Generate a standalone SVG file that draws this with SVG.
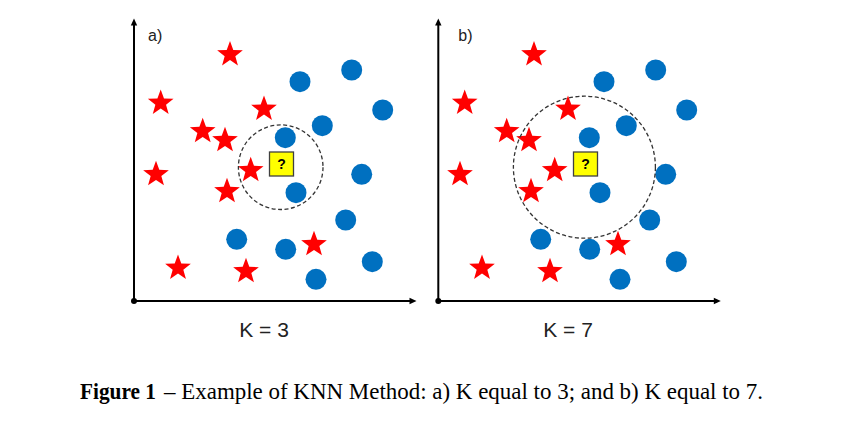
<svg xmlns="http://www.w3.org/2000/svg" xmlns:xlink="http://www.w3.org/1999/xlink" width="868" height="426" viewBox="0 0 868 426">
<style>
.axis{stroke:#000;stroke-width:2;fill:none}
.head{fill:#000}
.star{fill:#FF0000}
.dot{fill:#0070C0}
.q{fill:#FFFF00;stroke:#404040;stroke-width:1.3}
.qt{font-family:"Liberation Sans",Arial,sans-serif;font-weight:bold;font-size:14px;fill:#000;text-anchor:middle}
.ring{fill:none;stroke:#333;stroke-width:1.3;stroke-dasharray:4 2.5}
.lbl{font-family:"Liberation Sans",Arial,sans-serif;font-size:16px;fill:#222}
.k{font-family:"Liberation Sans",Arial,sans-serif;font-size:21px;fill:#222;text-anchor:middle}
.cap{font-family:"Liberation Serif","Times New Roman",serif;font-size:23px;fill:#000}
</style>
<defs>
<path id="star" d="M0,-13.5 L3.29,-4.53 L12.84,-4.17 L5.33,1.73 L7.94,10.92 L0,5.6 L-7.94,10.92 L-5.33,1.73 L-12.84,-4.17 L-3.29,-4.53 Z"/>
<g id="cloud">
<g class="star">
<use xlink:href="#star" x="230" y="54.5"/>
<use xlink:href="#star" x="160.7" y="103"/>
<use xlink:href="#star" x="264" y="109"/>
<use xlink:href="#star" x="202.7" y="131.3"/>
<use xlink:href="#star" x="225" y="140.3"/>
<use xlink:href="#star" x="156" y="174.3"/>
<use xlink:href="#star" x="250.7" y="170.3"/>
<use xlink:href="#star" x="227" y="191.3"/>
<use xlink:href="#star" x="314" y="244.3"/>
<use xlink:href="#star" x="178" y="268"/>
<use xlink:href="#star" x="246" y="271.3"/>
</g>
<g class="dot">
<circle cx="300" cy="81.7" r="10.5"/>
<circle cx="351.7" cy="70" r="10.5"/>
<circle cx="382.7" cy="110" r="10.5"/>
<circle cx="322.3" cy="125.7" r="10.5"/>
<circle cx="285.3" cy="137.7" r="10.5"/>
<circle cx="296" cy="192.7" r="10.5"/>
<circle cx="361.7" cy="174.3" r="10.5"/>
<circle cx="345.7" cy="220" r="10.5"/>
<circle cx="236.7" cy="239.3" r="10.5"/>
<circle cx="285.7" cy="249.3" r="10.5"/>
<circle cx="372.3" cy="261.7" r="10.5"/>
<circle cx="316" cy="279.3" r="10.5"/>
</g>
<rect class="q" x="269.5" y="152" width="24" height="24"/>
<text class="qt" x="281.5" y="169">?</text>
</g>
<g id="axes">
<line class="axis" x1="134" y1="301" x2="134" y2="24"/>
<line class="axis" x1="134" y1="301" x2="411" y2="301"/>
<polygon class="head" points="134,18.5 130.8,25.5 137.2,25.5"/>
<polygon class="head" points="416.5,301 409.5,297.8 409.5,304.2"/>
<circle class="head" cx="134" cy="301" r="3"/>
</g>
</defs>
<g id="panel-a">
<use xlink:href="#axes"/>
<text class="lbl" x="148" y="40.5">a)</text>
<use xlink:href="#cloud"/>
<circle id="ring-a" class="ring" cx="280.7" cy="167.2" r="42.3"/>
<text class="k" x="264" y="336.5">K = 3</text>
</g>
<g id="panel-b">
<use xlink:href="#axes" x="304.3"/>
<text class="lbl" x="458.3" y="40.5">b)</text>
<use xlink:href="#cloud" x="304"/>
<circle id="ring-b" class="ring" cx="584.4" cy="167.2" r="71"/>
<text class="k" x="568" y="336.5">K = 7</text>
</g>
<g id="caption">
<text class="cap" x="80" y="398.5" font-weight="bold" textLength="76" lengthAdjust="spacingAndGlyphs">Figure 1</text>
<text class="cap" x="164" y="398.5" textLength="599" lengthAdjust="spacingAndGlyphs">– Example of KNN Method: a) K equal to 3; and b) K equal to 7.</text>
</g>
</svg>
